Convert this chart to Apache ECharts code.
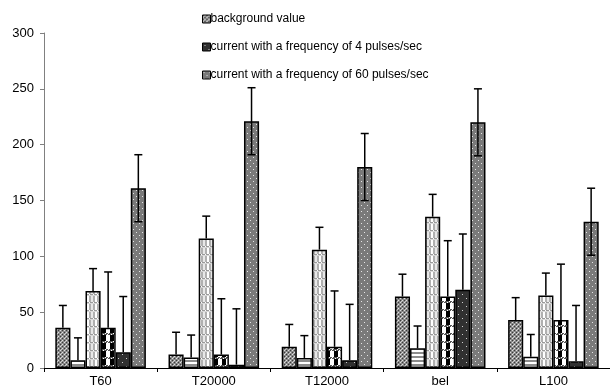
<!DOCTYPE html>
<html><head><meta charset="utf-8">
<script src="https://cdn.jsdelivr.net/npm/echarts@6/dist/echarts.min.js"></script>
<style>html,body{margin:0;padding:0;background:#fff}#c{width:610px;height:390px}</style>
</head><body><div id="c"></div>
<script>
const categories = ['T60', 'T20000', 'T12000', 'bel', 'L100'];
const seriesNames = ['background value', 's2', 's3', 's4', 'current with a frequency of 4 pulses/sec', 'current with a frequency of 60 pulses/sec'];
const legendNames = ['background value', 'current with a frequency of 4 pulses/sec', 'current with a frequency of 60 pulses/sec'];
const s1 = [36, 12, 19, 64, 43];
const s2 = [7, 9.5, 9, 17.6, 10];
const s3 = [69, 116, 106, 135.5, 65];
const s4 = [36, 12, 19, 64, 43];
const s5 = [14, 3, 7, 70, 6];
const s6 = [161, 221, 180, 220, 131];
const err1 = [20, 20, 20, 20, 20];
const err2 = [20, 20, 20, 20, 20];
const err3 = [20, 20, 20, 20, 20];
const err4 = [50, 50, 50, 50, 50];
const err5 = [50, 50, 50, 50, 50];
const err6 = [30, 30, 30, 30, 30];
const bothSides = [false, false, false, false, false, true];
const yTicks = [0, 50, 100, 150, 200, 250, 300];

const values = [s1, s2, s3, s4, s5, s6];
const errors = [err1, err2, err3, err4, err5, err6];

function pat(w, h, draw) {
  const c = document.createElement('canvas');
  c.width = w; c.height = h;
  const g = c.getContext('2d');
  draw(g);
  return { image: c, repeat: 'repeat' };
}
function px(g, col, x, y, w, h) { g.fillStyle = col; g.fillRect(x, y, w || 1, h || 1); }

const patterns = [
  pat(4, 4, g => { px(g, '#8a8a8a', 0, 0, 4, 4); px(g, '#3a3a3a', 0, 0); px(g, '#3a3a3a', 2, 2); px(g, '#e0e0e0', 2, 0); px(g, '#e0e0e0', 0, 2); px(g, '#c8c8c8', 1, 1); }),
  pat(4, 4, g => { px(g, '#ffffff', 0, 0, 4, 4); px(g, '#8c8c8c', 0, 0, 4, 2); }),
  pat(8, 8, g => { px(g, '#ffffff', 0, 0, 8, 8); px(g, '#b0b0b0', 1, 0, 6, 8); px(g, '#e8e8e8', 3, 0, 2, 8); px(g, '#9a9a9a', 0, 6, 8, 1); px(g, '#d8d8d8', 0, 7, 8, 1); px(g, '#ffffff', 1, 6); px(g, '#ffffff', 5, 6); }),
  pat(8, 8, g => { px(g, '#ffffff', 0, 0, 8, 8); px(g, '#000000', 0, 0, 2, 8); px(g, '#000000', 6, 0, 2, 8); px(g, '#555555', 0, 5, 8, 2); px(g, '#ffffff', 1, 5); px(g, '#ffffff', 4, 5); px(g, '#ffffff', 7, 6); px(g, '#ffffff', 3, 6); }),
  pat(8, 8, g => { px(g, '#303030', 0, 0, 8, 8); px(g, '#cfcfcf', 2, 2); px(g, '#cfcfcf', 6, 6); }),
  pat(6, 6, g => { px(g, '#7a7a7a', 0, 0, 6, 6); px(g, '#e6e6e6', 1, 1); px(g, '#e6e6e6', 4, 4); })
];

const series = [];
values.forEach((vals, i) => {
  series.push({
    name: seriesNames[i],
    type: 'bar',
    data: vals,
    barGap: '0%',
    barCategoryGap: '20%',
    itemStyle: { color: patterns[i], borderColor: '#000', borderWidth: 1.5 },
    z: 2,
    animation: false
  });
});
values.forEach((vals, i) => {
  series.push({
    type: 'custom',
    name: 'err' + i,
    data: vals.map((v, k) => [k, v, errors[i][k]]),
    z: 5,
    animation: false,
    renderItem: function (params, api) {
      const k = api.value(0), v = api.value(1), e = api.value(2);
      const catW = api.size([1, 0])[0];
      const bw = catW * 0.8 / 6;
      const base = api.coord([k, v]);
      const x = base[0] + (i - 2.5) * bw;
      const yTop = api.coord([k, v + e])[1];
      const yBot = bothSides[i] ? api.coord([k, v - e])[1] : base[1];
      const cap = 4;
      const st = { stroke: '#000', lineWidth: 1.5 };
      const ch = [
        { type: 'line', shape: { x1: x, y1: yTop, x2: x, y2: yBot }, style: st },
        { type: 'line', shape: { x1: x - cap, y1: yTop, x2: x + cap, y2: yTop }, style: st }
      ];
      if (bothSides[i]) ch.push({ type: 'line', shape: { x1: x - cap, y1: yBot, x2: x + cap, y2: yBot }, style: st });
      return { type: 'group', children: ch };
    }
  });
});

const chart = echarts.init(document.getElementById('c'));
chart.setOption({
  animation: false,
  textStyle: { fontFamily: 'Liberation Sans, Arial, sans-serif' },
  legend: {
    data: legendNames,
    orient: 'vertical',
    left: 197,
    top: 8,
    itemWidth: 8,
    itemHeight: 8,
    itemGap: 16,
    icon: 'rect',
    selectedMode: false,
    itemStyle: { borderColor: '#000', borderWidth: 1 },
    textStyle: { fontSize: 12, color: '#000', padding: [0, 0, 0, -5] }
  },
  grid: { left: 44, top: 33, width: 575, bottom: 22, containLabel: false },
  xAxis: {
    type: 'category',
    data: categories,
    axisLine: { lineStyle: { color: '#000', width: 1 } },
    axisTick: { show: true, alignWithLabel: false, length: 4, lineStyle: { color: '#000' } },
    axisLabel: { fontSize: 13, color: '#000', margin: 7 }
  },
  yAxis: {
    type: 'value',
    min: yTicks[0],
    max: yTicks[yTicks.length - 1],
    interval: yTicks[1] - yTicks[0],
    splitLine: { show: false },
    axisLine: { show: true, lineStyle: { color: '#808080', width: 1 } },
    axisTick: { show: true, length: 4, lineStyle: { color: '#808080' } },
    axisLabel: { fontSize: 13, color: '#000', margin: 10 }
  },
  series: series
});
</script></body></html>
